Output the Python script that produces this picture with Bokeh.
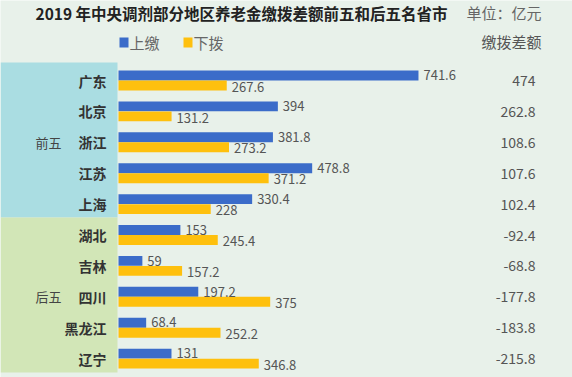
from bokeh.plotting import figure
from bokeh.models import Range1d, ColumnDataSource
from bokeh.transform import dodge
from bokeh.core.properties import value
from bokeh.embed import file_html
from bokeh.resources import INLINE

# ---- data ----
provinces = ["广东", "北京", "浙江", "江苏", "上海", "湖北", "吉林", "四川", "黑龙江", "辽宁"]
shangjiao = [741.6, 394, 381.8, 478.8, 330.4, 153, 59, 197.2, 68.4, 131]
xiabo = [267.6, 131.2, 273.2, 371.2, 228, 245.4, 157.2, 375, 252.2, 346.8]
diff_labels = ["474", "262.8", "108.6", "107.6", "102.4", "-92.4", "-68.8", "-177.8", "-183.8", "-215.8"]
groups = ["前五", "后五"]
series_names = ["上缴", "下拨"]
title_text = "2019 年中央调剂部分地区养老金缴拨差额前五和后五名省市"
unit_text = "单位：亿元"
diff_header = "缴拨差额"

# ---- style ----
BG = "#e8f1ea"
BLUE = "#3b6cc9"
YELLOW = "#fec00e"
CYAN = "#aadde2"
GREEN = "#d2e6b7"
FONT = value("Noto Sans CJK SC")

W, H = 572, 377
PX_PER_UNIT = 0.4045
BAR_X0 = 118          # px position of value 0
ROW0 = 80             # px position of first row center
ROW_STEP = 30.9

idx = list(range(len(provinces)))
src = ColumnDataSource(dict(
    idx=idx, prov=provinces, up=shangjiao, down=xiabo,
    up_txt=[("%g" % v) for v in shangjiao],
    down_txt=[("%g" % v) for v in xiabo],
    diff=diff_labels,
))

p = figure(width=W, height=H, output_backend="svg", toolbar_location=None,
           x_range=Range1d(-BAR_X0 / PX_PER_UNIT, (W - BAR_X0) / PX_PER_UNIT),
           y_range=Range1d((H - ROW0) / ROW_STEP, -ROW0 / ROW_STEP),
           min_border=0, background_fill_color=BG, border_fill_color=BG,
           outline_line_color=None)
p.axis.visible = False
p.grid.visible = False
p.extra_x_ranges = {"px": Range1d(0, W)}
p.extra_y_ranges = {"py": Range1d(H, 0)}

# side panels
p.quad(left=[0, 0], right=[117, 117], top=[62, 217], bottom=[217, 372],
       fill_color=[CYAN, GREEN], line_color=None,
       x_range_name="px", y_range_name="py")

# bars
p.hbar(y=dodge("idx", -0.162, range=p.y_range), left=0, right="up", height=0.32,
       fill_color=BLUE, line_color=None, source=src)
p.hbar(y=dodge("idx", 0.162, range=p.y_range), left=0, right="down", height=0.32,
       fill_color=YELLOW, line_color=None, source=src)

# value labels
p.text(x="up", y=dodge("idx", -0.17, range=p.y_range), text="up_txt", source=src,
       x_offset=5, text_baseline="middle", text_font=FONT, text_font_size="13px",
       text_color="#555555")
p.text(x="down", y=dodge("idx", 0.2, range=p.y_range), text="down_txt", source=src,
       x_offset=5, text_baseline="middle", text_font=FONT, text_font_size="13px",
       text_color="#555555")

# province labels
p.text(x=106, y="idx", text="prov", source=src, x_range_name="px",
       text_align="right", text_baseline="middle", text_font=FONT,
       text_font_size="14px", text_font_style="bold", text_color="#333333")

# difference column
p.text(x=535, y="idx", text="diff", source=src, x_range_name="px",
       text_align="right", text_baseline="middle", text_font=FONT,
       text_font_size="14px", text_color="#555555")

# group labels
p.text(x=[35, 35], y=[2, 7], text=groups, x_range_name="px",
       text_align="left", text_baseline="middle", text_font=FONT,
       text_font_size="13px", text_color="#444444")

# title and headers
p.text(x=[35], y=[12], text=[title_text], x_range_name="px", y_range_name="py",
       text_align="left", text_baseline="middle", text_font=FONT,
       text_font_size="15.5px", text_font_style="bold", text_color="#222222")
p.text(x=[541], y=[12], text=[unit_text], x_range_name="px", y_range_name="py",
       text_align="right", text_baseline="middle", text_font=FONT,
       text_font_size="15px", text_color="#666666")
p.text(x=[541], y=[41], text=[diff_header], x_range_name="px", y_range_name="py",
       text_align="right", text_baseline="middle", text_font=FONT,
       text_font_size="15px", text_color="#555555")

# legend
p.rect(x=[123.5, 187.5], y=[42, 42], width=9, height=10, fill_color=[BLUE, YELLOW],
       line_color=None, x_range_name="px", y_range_name="py")
p.text(x=[129, 193], y=[42, 42], text=series_names, x_range_name="px", y_range_name="py",
       text_align="left", text_baseline="middle", text_font=FONT,
       text_font_size="15px", text_color="#666666")

html = file_html(p, INLINE)
html = html.replace("<body>", '<body style="background-color:%s; margin:0">' % BG, 1)
open("out.html", "w").write(html)
